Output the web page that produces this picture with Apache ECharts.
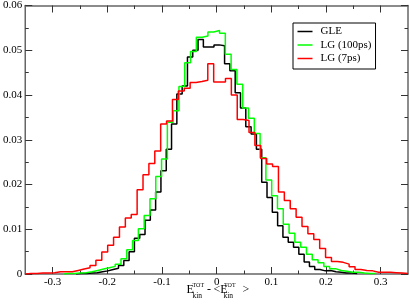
<!DOCTYPE html>
<html><head><meta charset="utf-8">
<script src="https://cdn.jsdelivr.net/npm/echarts@6/dist/echarts.min.js"></script>
<style>html,body{margin:0;padding:0;background:#fff}#c{width:409px;height:305px}</style>
</head><body><div id="c"></div>
<script>
const xMajorTicks = [-0.3, -0.2, -0.1, 0, 0.1, 0.2, 0.3];
const xMinorTicks = [-0.25, -0.15, -0.05, 0.05, 0.15, 0.25];
const seriesNames = ['GLE', 'LG (100ps)', 'LG (7ps)'];

// histogram bins: bin k is centred on k*width
const gleBinWidth = 0.0097, gleFirstBin = -26;
const gleValues = [
 0.0001,0.0001,0.0002,0.0003,0.0005,0.0007,0.0010,0.0013,0.0019,0.0030,
 0.0050,0.0080,0.0088,0.0120,0.0143,0.0183,0.0231,0.0279,0.0335,0.0402,
 0.0420,0.0485,0.0500,0.0524,0.0507,0.0507,0.0512,0.0510,0.0470,0.0454,
 0.0405,0.0371,0.0329,0.0313,0.0279,0.0205,0.0171,0.0138,0.0108,0.0082,
 0.0071,0.0060,0.0044,0.0027,0.0017,0.0010,0.0007,0.0008,0.0005,0.0004,
 0.0002,0.0002,0.0001
];
const lg100BinWidth = 0.0106, lg100FirstBin = -26;
const lg100Values = [
 0.0001,0.0001,0.0002,0.0003,0.0005,0.0008,0.0011,0.0014,0.0017,0.0022,
 0.0034,0.0054,0.0075,0.0101,0.0131,0.0168,0.0218,0.0257,0.0339,0.0365,
 0.0419,0.0472,0.0497,0.0529,0.0532,0.0541,0.0544,0.0538,0.0491,0.0457,
 0.0424,0.0371,0.0348,0.0314,0.0260,0.0210,0.0175,0.0146,0.0111,0.0091,
 0.0071,0.0060,0.0044,0.0032,0.0025,0.0017,0.0012,0.0008,0.0006,0.0004,
 0.0004,0.0002,0.0001,0.0001
];
const lg7BinWidth = 0.01077, lg7FirstBin = -32;
const lg7Values = [
 0.0001,0.0001,0.0002,0.0002,0.0003,0.0005,0.0005,0.0005,0.0008,0.0011,
 0.0014,0.0019,0.0031,0.0049,0.0064,0.0082,0.0105,0.0125,0.0133,0.0188,
 0.0222,0.0247,0.0275,0.0335,0.0342,0.0390,0.0409,0.0415,0.0428,0.0430,
 0.0433,0.0470,0.0429,0.0429,0.0437,0.0400,0.0345,0.0343,0.0316,0.0287,
 0.0258,0.0246,0.0240,0.0183,0.0164,0.0146,0.0127,0.0106,0.0090,0.0077,
 0.0057,0.0037,0.0028,0.0026,0.0022,0.0016,0.0010,0.0008,0.0007,0.0004,
 0.0004,0.0004,0.0003,0.0002,0.0001
];

function toSteps(firstBin, width, values) {
  const pts = [[(firstBin - 0.5) * width, 0]];
  values.forEach((v, i) => pts.push([(firstBin + i - 0.5) * width, v]));
  pts.push([(firstBin + values.length - 0.5) * width, values[values.length - 1]]);
  pts.push([(firstBin + values.length - 0.5) * width, 0]);
  return pts;
}

const FONT = '"Liberation Serif", "Times New Roman", serif';
const AX = '#666', TK = '#333';

function xAxisDef(pos, ticks, len, showLine, showLabel) {
  return {
    type: 'value', position: pos, min: -0.35, max: 0.35,
    axisLine: {show: showLine, onZero: false, lineStyle: {color: AX, width: 1.5}},
    axisTick: {show: true, inside: true, length: len, customValues: ticks, lineStyle: {color: TK, width: 1}},
    axisLabel: {show: showLabel, customValues: ticks, margin: 3, color: '#000', fontFamily: FONT, fontSize: 11,
      formatter: v => (Math.abs(v) < 1e-9 ? '0' : (+v).toFixed(1))},
    splitLine: {show: false}
  };
}
function yAxisDef(pos, showLabel) {
  return {
    type: 'value', position: pos, min: 0, max: 0.06, interval: 0.01,
    axisLine: {show: true, onZero: false, lineStyle: {color: AX, width: 1.5}},
    axisTick: {show: true, inside: true, length: 7, lineStyle: {color: TK, width: 1}},
    minorTick: {show: true, splitNumber: 2, length: 3.5, lineStyle: {color: TK, width: 1}},
    axisLabel: {show: showLabel, margin: 3, color: '#000', fontFamily: FONT, fontSize: 11,
      formatter: v => (v === 0 ? '0' : v.toFixed(2))},
    splitLine: {show: false}, minorSplitLine: {show: false}
  };
}

const chart = echarts.init(document.getElementById('c'), null, {renderer: 'canvas'});
chart.setOption({
  backgroundColor: '#fff',
  animation: false,
  grid: {left: 23, right: 1, top: 4, bottom: 31, containLabel: false},
  xAxis: [
    xAxisDef('bottom', xMajorTicks, 7, true, true),
    xAxisDef('bottom', xMinorTicks, 3.5, false, false),
    xAxisDef('top', xMajorTicks, 7, true, false),
    xAxisDef('top', xMinorTicks, 3.5, false, false)
  ],
  yAxis: [yAxisDef('left', true), yAxisDef('right', false)],
  legend: {
    orient: 'vertical', left: 293, top: 23,
    icon: 'rect', itemWidth: 15, itemHeight: 1.5, itemGap: 2.5,
    padding: [3, 4, 5, 4.5],
    borderColor: '#000', borderWidth: 1, borderRadius: 0,
    textStyle: {fontFamily: FONT, fontSize: 11, lineHeight: 10, color: '#000', padding: [0, 0, 0, 3]},
    data: seriesNames
  },
  series: [
    {name: seriesNames[0], type: 'line', step: 'end', symbol: 'none', data: toSteps(gleFirstBin, gleBinWidth, gleValues),
     lineStyle: {color: '#000', width: 1.5}, itemStyle: {color: '#000'}},
    {name: seriesNames[1], type: 'line', step: 'end', symbol: 'none', data: toSteps(lg100FirstBin, lg100BinWidth, lg100Values),
     lineStyle: {color: '#00ff00', width: 1.5}, itemStyle: {color: '#00ff00'}},
    {name: seriesNames[2], type: 'line', step: 'end', symbol: 'none', data: toSteps(lg7FirstBin, lg7BinWidth, lg7Values),
     lineStyle: {color: '#ff0000', width: 1.5}, itemStyle: {color: '#ff0000'}}
  ],
  graphic: [
    {type: 'text', x: 186.5, y: 284, style: {text: 'E', font: '12px ' + FONT, fill: '#000', verticalAlign: 'top'}},
    {type: 'text', x: 192.5, y: 282, style: {text: 'TOT', font: '6px ' + FONT, fill: '#000', verticalAlign: 'top'}},
    {type: 'text', x: 192.5, y: 292, style: {text: 'kin', font: '7.5px ' + FONT, fill: '#000', verticalAlign: 'top'}},
    {type: 'text', x: 207, y: 284, style: {text: '-', font: '12px ' + FONT, fill: '#000', verticalAlign: 'top'}},
    {type: 'text', x: 213.5, y: 284, style: {text: '<E', font: '12px ' + FONT, fill: '#000', verticalAlign: 'top'}},
    {type: 'text', x: 224, y: 282, style: {text: 'TOT', font: '6px ' + FONT, fill: '#000', verticalAlign: 'top'}},
    {type: 'text', x: 223.5, y: 292, style: {text: 'kin', font: '7.5px ' + FONT, fill: '#000', verticalAlign: 'top'}},
    {type: 'text', x: 242.5, y: 284, style: {text: '>', font: '12px ' + FONT, fill: '#000', verticalAlign: 'top'}}
  ]
});
</script></body></html>
